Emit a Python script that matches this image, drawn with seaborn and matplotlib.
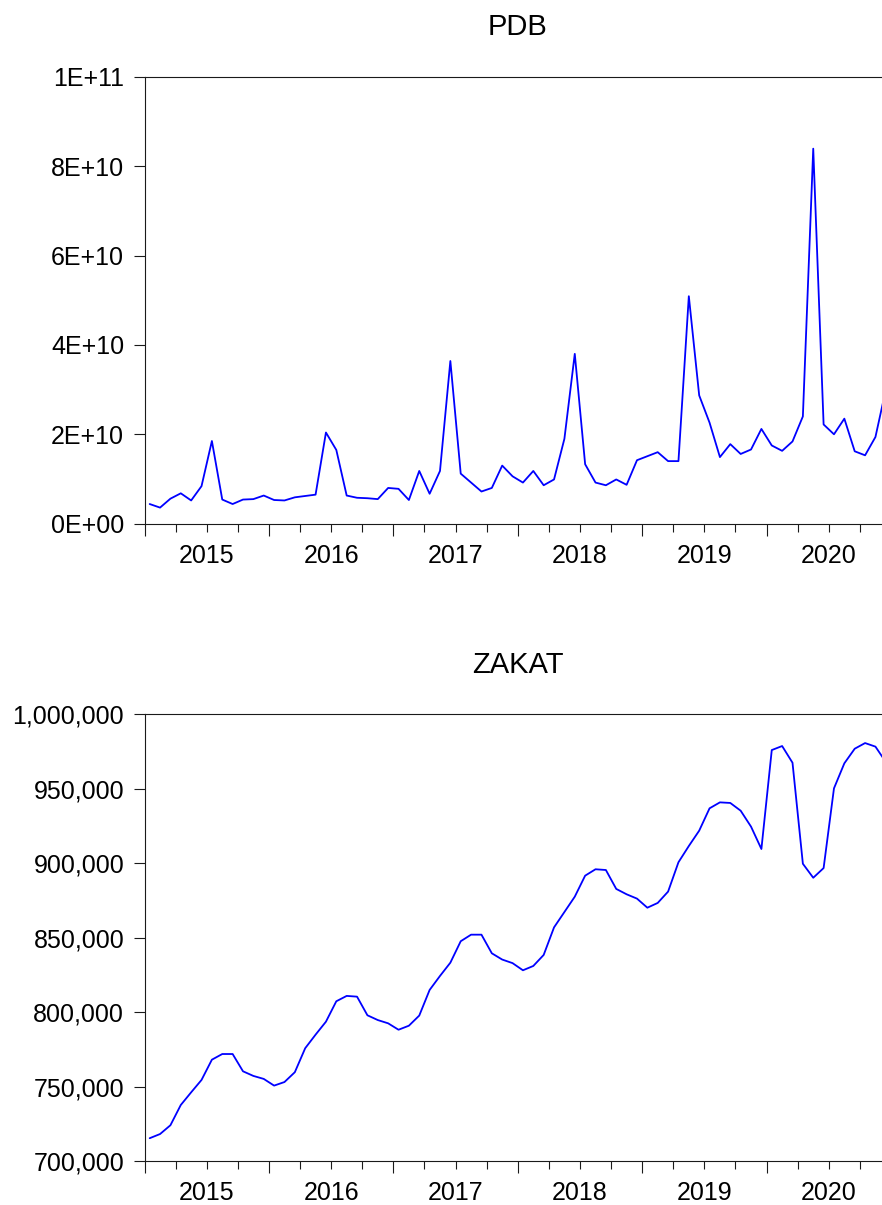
import matplotlib
matplotlib.use("Agg")
import matplotlib.pyplot as plt
import matplotlib.ticker as mticker
import numpy as np
import pandas as pd
import seaborn as sns

# monthly observations, 2015M01 - 2020M12
years = [2015, 2016, 2017, 2018, 2019, 2020]
year_labels = ["2015", "2016", "2017", "2018", "2019", "2020"]

# PDB, in billions
pdb_bn = [
    4.4, 3.6, 5.6, 6.8, 5.2, 8.4, 18.5, 5.4, 4.4, 5.4, 5.5, 6.3,
    5.3, 5.2, 5.9, 6.2, 6.5, 20.4, 16.5, 6.3, 5.8, 5.7, 5.5, 8.0,
    7.8, 5.3, 11.8, 6.7, 11.8, 36.4, 11.2, 9.2, 7.2, 8.0, 13.0, 10.6,
    9.2, 11.8, 8.6, 9.9, 19.0, 38.0, 13.3, 9.2, 8.6, 9.9, 8.7, 14.2,
    15.1, 16.0, 14.0, 14.0, 50.9, 28.7, 22.6, 14.9, 17.8, 15.6, 16.6, 21.2,
    17.5, 16.3, 18.4, 24.0, 83.9, 22.2, 20.0, 23.5, 16.2, 15.3, 19.4, 30.0,
]

# ZAKAT, in thousands
zakat_k = [
    715.5, 718.3, 724.2, 737.8, 746.3, 754.6, 768.2, 772.0, 772.0, 760.4, 757.3, 755.3,
    750.8, 753.2, 759.8, 775.9, 785.0, 793.7, 807.4, 811.0, 810.5, 798.0, 794.8, 792.6,
    788.3, 791.0, 797.8, 815.0, 824.4, 833.3, 847.7, 852.1, 852.1, 839.6, 835.4, 833.0,
    828.2, 831.1, 838.5, 857.0, 867.3, 877.6, 891.7, 896.0, 895.5, 882.8, 879.2, 876.3,
    870.2, 873.4, 881.0, 900.7, 911.6, 921.9, 936.9, 940.9, 940.5, 935.3, 924.6, 909.6,
    976.0, 978.7, 967.5, 899.7, 890.3, 896.8, 950.3, 967.1, 976.9, 980.7, 978.3, 968.0,
]

dates = pd.period_range("2015-01", periods=len(pdb_bn), freq="M")
df = pd.DataFrame({
    # place each month in the middle of its slot on a decimal-year axis
    "t": dates.year + (dates.month - 0.5) / 12,
    "PDB": np.array(pdb_bn) * 1e9,
    "ZAKAT": np.array(zakat_k) * 1e3,
})

sns.set_style("ticks")
plt.rcParams["font.family"] = ["Liberation Sans", "DejaVu Sans"]
plt.rcParams["text.color"] = "black"
plt.rcParams["xtick.labelcolor"] = "black"
plt.rcParams["ytick.labelcolor"] = "black"

W, H = 882, 1205
fig = plt.figure(figsize=(W / 100, H / 100), dpi=100)
ax1 = fig.add_axes([144.5 / W, 1 - 523.7 / H, 746.5 / W, 447 / H])
ax2 = fig.add_axes([144.5 / W, 1 - 1161.3 / H, 746.5 / W, 447 / H])

panels = [
    (ax1, "PDB", (0, 1e11), 2e10, lambda v, p: format(v, ".0E")),
    (ax2, "ZAKAT", (700000, 1000000), 50000, lambda v, p: format(v, ",.0f")),
]

edges = np.arange(years[0], years[-1] + 2)
mids = np.array(years) + 0.5
quarters = [e + q for e in edges[:-1] for q in (0.25, 0.5, 0.75)]
dark = "#1a1a1a"

for ax, col, ylim, step, fmt in panels:
    sns.lineplot(data=df, x="t", y=col, ax=ax, color="#0000FF", linewidth=1.3)
    ax.set_xlim(edges[0], edges[-1])
    ax.set_ylim(*ylim)
    ax.set_yticks(np.arange(ylim[0], ylim[1] + step / 2, step))
    ax.yaxis.set_major_formatter(mticker.FuncFormatter(fmt))
    ax.set_xlabel("")
    ax.set_ylabel("")
    ax.set_title(col, fontsize=21, pad=30, color="black")

    ax.xaxis.remove_overlapping_locs = False
    ax.set_xticks(mids, year_labels)
    ax.set_xticks(quarters, minor=True)
    ax.tick_params(axis="x", which="major", length=0, pad=14.5, labelsize=18)
    ax.tick_params(axis="x", which="minor", length=5.8, width=0.8, color=dark)
    ax.tick_params(axis="y", length=8, width=0.8, pad=6.6, labelsize=18, color=dark)

    # longer ticks on the year boundaries
    sec = ax.secondary_xaxis("bottom")
    sec.set_xticks(edges)
    sec.set_xticklabels([])
    sec.tick_params(length=8.5, width=0.8, color=dark)
    sec.spines["bottom"].set_visible(False)

    for s in ["left", "top", "bottom"]:
        ax.spines[s].set_color(dark)
        ax.spines[s].set_linewidth(0.8)
    ax.spines["right"].set_visible(False)

fig.savefig("out.png", dpi=100)
